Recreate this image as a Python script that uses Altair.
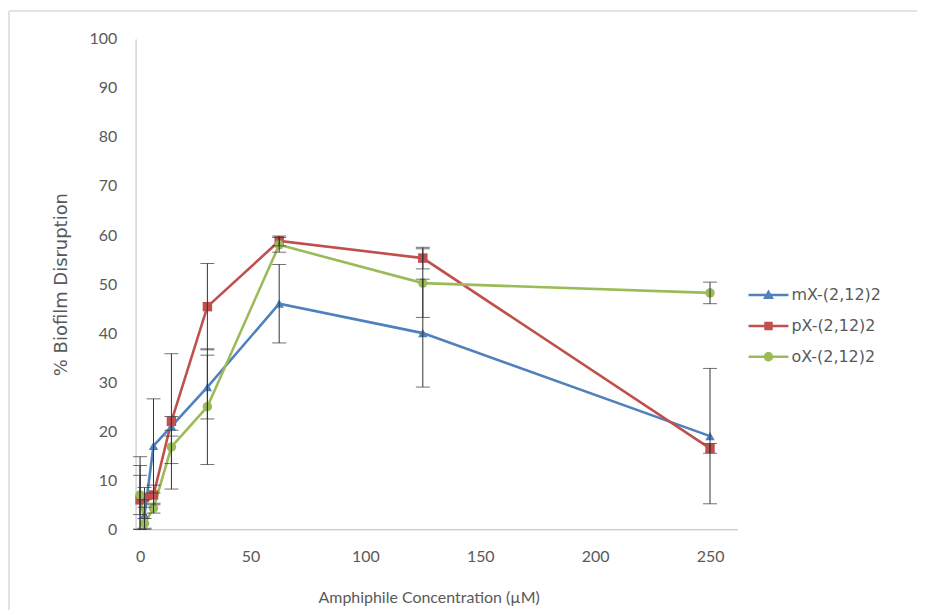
import altair as alt
import pandas as pd

# ---- data ----
conc = [1.95, 3.9, 7.8, 15.6, 31.25, 62.5, 125, 250]
series_names = ["mX-(2,12)2", "pX-(2,12)2", "oX-(2,12)2"]
mX = [6, 3, 17, 21, 29, 46, 40, 19]
mX_err = [8.8, 3, 9.6, 2, 6.5, 8, 11, 13.8]
pX = [6, 6.5, 7, 22, 45.4, 58.8, 55.3, 16.5]
pX_err = [7, 2, 2, 13.8, 8.8, 1, 2.2, 1]
oX = [7, 1.2, 4.3, 16.8, 25, 58, 50.2, 48.2]
oX_err = [4, 1, 1, 3.4, 11.8, 1.5, 7, 2.2]
x_ticks = [0, 50, 100, 150, 200, 250]
y_ticks = [0, 10, 20, 30, 40, 50, 60, 70, 80, 90, 100]

colors = ["#4F81BD", "#C0504D", "#9BBB59"]
text_color = "#595959"
FONT = "Lato"
WIDE = "DejaVu Sans"

rows = []
for name, vals, errs in zip(series_names, [mX, pX, oX], [mX_err, pX_err, oX_err]):
    for i, (xv, yv, ev) in enumerate(zip(conc, vals, errs)):
        rows.append({"series": name, "x": xv, "y": yv, "lo": max(yv - ev, 0), "hi": yv + ev, "order": i})
df = pd.DataFrame(rows)

leg_df = pd.DataFrame({"series": series_names})

W, H = 604, 492

xscale = alt.Scale(domain=[0, 262], nice=False, zero=False)
yscale = alt.Scale(domain=[0, 100], nice=False)

xaxis = alt.Axis(values=x_ticks, grid=False, ticks=False, domainColor="#BFBFBF",
                 labelFont=FONT, labelFontSize=16, labelColor=text_color, labelPadding=19,
                 title="Amphiphile Concentration (µM)", titleFont=FONT, titleFontSize=16,
                 titleFontWeight="normal", titleColor=text_color,
                 titleX=W / 2 - 8, titleY=68, titleBaseline="middle")
yaxis = alt.Axis(values=y_ticks, grid=False, ticks=False, domainColor="#BFBFBF",
                 labelFont=FONT, labelFontSize=16, labelColor=text_color, labelPadding=19,
                 title="% Biofilm Disruption", titleFont=WIDE, titleFontSize=18,
                 titleFontWeight="normal", titleColor=text_color,
                 titleX=-74, titleY=H / 2, titleBaseline="middle", titleAlign="center")

X = alt.X("x:Q", scale=xscale, axis=xaxis)
Y = alt.Y("y:Q", scale=yscale, axis=yaxis)

color_nolegend = alt.Color("series:N", scale=alt.Scale(domain=series_names, range=colors), legend=None)

base = alt.Chart(df)

lines = base.mark_line(strokeWidth=2.6).encode(
    x=X, y=Y, color=color_nolegend, order="order:Q"
)

points = base.mark_point(filled=True, opacity=1, size=90).encode(
    x=X, y=Y, color=color_nolegend,
    shape=alt.Shape("series:N", scale=alt.Scale(domain=series_names,
                                                range=["triangle-up", "square", "circle"]),
                    legend=None),
)

err_rule = base.mark_rule(color="#333333", strokeWidth=1).encode(
    x=X, y=alt.Y("lo:Q", scale=yscale, axis=yaxis), y2="hi:Q"
)
err_lo = base.mark_tick(color="#333333", orient="horizontal", thickness=1, size=14).encode(
    x=X, y=alt.Y("lo:Q", scale=yscale, axis=yaxis)
)
err_hi = base.mark_tick(color="#333333", orient="horizontal", thickness=1, size=14).encode(
    x=X, y=alt.Y("hi:Q", scale=yscale, axis=yaxis)
)

line_path = "M-4,-0.25H4V0.25H-4Z"
leg_paths = [
    line_path + "M0,-1.1L1.1,0.8H-1.1Z",
    line_path + "M-0.85,-0.85H0.85V0.85H-0.85Z",
    line_path + "M-0.95,0A0.95,0.95 0 1,1 0.95,0A0.95,0.95 0 1,1 -0.95,0Z",
]

def leg():
    return alt.Legend(title=None, orient="none", legendX=627, legendY=249,
                      padding=0, symbolSize=100, labelOffset=15,
                      rowPadding=15, labelFont=WIDE, labelFontSize=16,
                      labelColor=text_color, symbolStrokeWidth=0)

# legend-only layer: its marks are placed far outside the canvas
legend_layer = alt.Chart(leg_df).mark_point(filled=True, opacity=1, size=100).encode(
    x=alt.value(-5000), y=alt.value(-5000),
    color=alt.Color("series:N", scale=alt.Scale(domain=series_names, range=colors), legend=leg()),
    shape=alt.Shape("series:N", scale=alt.Scale(domain=series_names, range=leg_paths), legend=leg()),
)

one = pd.DataFrame({"k": [0]})
border_top = alt.Chart(one).mark_rule(stroke="#D9D9D9", strokeWidth=1.5).encode(
    x=alt.value(-127), x2=alt.value(W + 300), y=alt.value(-28)
)
border_left = alt.Chart(one).mark_rule(stroke="#D9D9D9", strokeWidth=1.5).encode(
    x=alt.value(-127), y=alt.value(-28), y2=alt.value(H + 200)
)

chart = alt.layer(border_top, border_left, lines, points, err_rule, err_lo, err_hi,
                  legend_layer).resolve_scale(
    color="independent", shape="independent"
).properties(
    width=W, height=H,
    background="white",
    autosize=alt.AutoSizeParams(type="none"),
    padding={"left": 128, "top": 30, "right": 180, "bottom": 80},
).configure_view(stroke="transparent", strokeWidth=0)

chart.save("out.html", embed_options={"renderer": "svg", "actions": False})
